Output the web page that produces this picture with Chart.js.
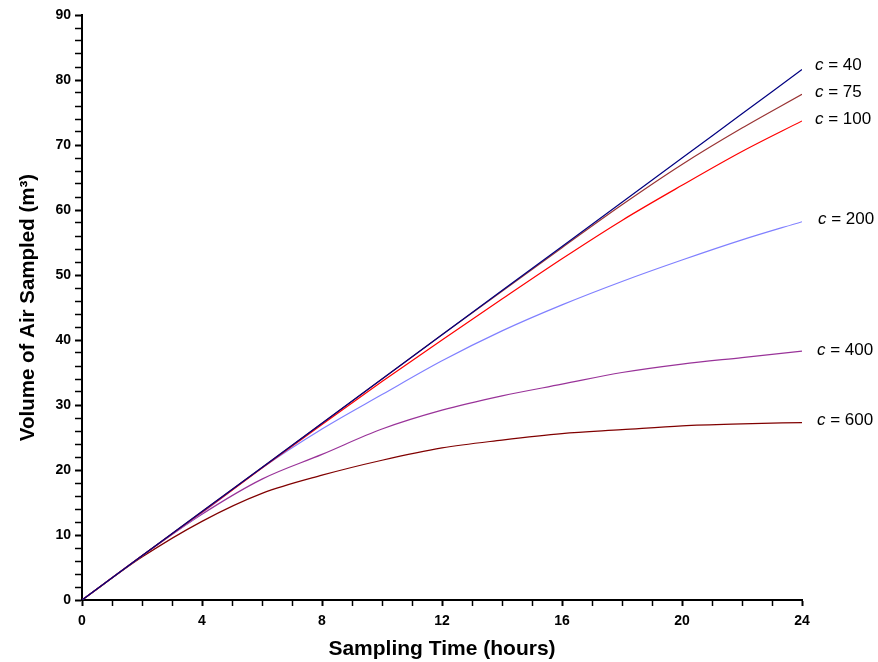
<!DOCTYPE html>
<html>
<head>
<meta charset="utf-8">
<script src="https://cdn.jsdelivr.net/npm/chart.js@4.4.1/dist/chart.umd.min.js"></script>
<style>
  html, body { margin: 0; padding: 0; background: #fff; }
  #wrap { width: 878px; height: 662px; }
</style>
</head>
<body>
<div id="wrap"><canvas id="linechart" width="878" height="662"></canvas></div>
<script>
// sampling time (hours)
const hours = [0, 2, 4, 6, 8, 10, 12, 14, 16, 18, 20, 22, 24];

// volume of air sampled (m3), one array per c value
const c40  = [0, 6.8, 13.6, 20.4, 27.2, 34.0, 40.8, 47.6, 54.4, 61.2, 68.0, 74.8, 81.6];
const c75  = [0, 6.8, 13.6, 20.4, 27.2, 34.0, 40.8, 47.5, 54.2, 60.8, 67.0, 72.6, 77.8];
const c100 = [0, 6.8, 13.5, 20.3, 27.0, 33.6, 40.0, 46.3, 52.5, 58.4, 63.8, 69.0, 73.7];
const c200 = [0, 6.8, 13.4, 20.3, 26.3, 31.6, 36.8, 41.4, 45.4, 49.0, 52.3, 55.4, 58.2];
const c400 = [0, 6.8, 13.2, 18.6, 22.4, 26.3, 29.2, 31.4, 33.2, 35.0, 36.3, 37.3, 38.3];
const c600 = [0, 6.6, 12.1, 16.4, 19.2, 21.5, 23.4, 24.6, 25.6, 26.2, 26.8, 27.1, 27.3];

const seriesNames = ['40', '75', '100', '200', '400', '600'];
const seriesValues = [c40, c75, c100, c200, c400, c600];
const colors = ['#000080', '#993333', '#ff0000', '#8080ff', '#993399', '#800000'];

const ctx = document.getElementById('linechart');

// "c = xx" labels at the right end of each curve
const endLabels = {
  id: 'endLabels',
  afterDatasetsDraw(chart) {
    const g = chart.ctx;
    const area = chart.chartArea;
    const dy = [-4, -2, -2, -2, -1, -2];
    const dx = [13, 13, 13, 16, 15, 15];
    g.save();
    g.fillStyle = '#000';
    g.textBaseline = 'middle';
    chart.data.datasets.forEach((ds, i) => {
      const k = ds.seriesIndex;
      const pts = chart.getDatasetMeta(i).data;
      const last = pts[pts.length - 1];
      let x = area.right + dx[k];
      const y = last.y + dy[k];
      g.font = 'italic 17px "Liberation Sans", Arial, sans-serif';
      g.fillText('c', x, y);
      x += g.measureText('c').width;
      g.font = '17px "Liberation Sans", Arial, sans-serif';
      g.fillText(' = ' + seriesNames[k], x, y);
    });
    g.restore();
  }
};

const tickFont = { family: '"Liberation Sans", Arial, sans-serif', size: 14, weight: 'bold' };

new Chart(ctx, {
  type: 'line',
  data: {
    datasets: seriesValues.map((vals, i) => ({
      label: 'c = ' + seriesNames[i],
      seriesIndex: i,
      order: i,
      data: hours.map((h, j) => ({ x: h, y: vals[j] })),
      borderColor: colors[i],
      backgroundColor: colors[i],
      borderWidth: 1.2,
      pointRadius: 0,
      cubicInterpolationMode: 'monotone',
      fill: false
    }))
  },
  plugins: [endLabels],
  options: {
    responsive: false,
    animation: false,
    layout: { padding: { left: 0, top: 15, right: 76, bottom: 0 } },
    plugins: {
      legend: { display: false },
      tooltip: { enabled: false }
    },
    scales: {
      x: {
        type: 'linear',
        min: 0,
        max: 24,
        afterFit: s => { s.height = 62; },
        border: { display: true, color: '#000', width: 2 },
        grid: {
          display: true,
          drawOnChartArea: false,
          drawTicks: true,
          tickLength: 6,
          color: '#000',
          tickWidth: c => (c.tick && c.tick.value % 4 === 0 ? 2 : 1.5)
        },
        ticks: {
          stepSize: 1,
          autoSkip: false,
          maxRotation: 0,
          padding: 7,
          color: '#000',
          font: tickFont,
          callback: v => (v % 4 === 0 ? v : '')
        },
        title: {
          display: true,
          text: 'Sampling Time (hours)',
          color: '#000',
          padding: { top: 2, bottom: 0 },
          font: { family: '"Liberation Sans", Arial, sans-serif', size: 21, weight: 'bold' }
        }
      },
      y: {
        min: 0,
        max: 90,
        afterFit: s => { s.width = 82; },
        border: { display: true, color: '#000', width: 2 },
        grid: {
          display: true,
          drawOnChartArea: false,
          drawTicks: true,
          tickLength: 7,
          color: '#000',
          tickWidth: c => (c.tick && c.tick.value % 10 === 0 ? 2 : 1.5)
        },
        ticks: {
          stepSize: 2,
          autoSkip: false,
          padding: 4,
          color: '#000',
          font: tickFont,
          callback: v => (v % 10 === 0 ? v : '')
        },
        title: {
          display: true,
          text: 'Volume of Air Sampled (m³)',
          color: '#000',
          padding: { top: 16, bottom: 6 },
          font: { family: '"Liberation Sans", Arial, sans-serif', size: 20.5, weight: 'bold' }
        }
      }
    }
  }
});
</script>
</body>
</html>
